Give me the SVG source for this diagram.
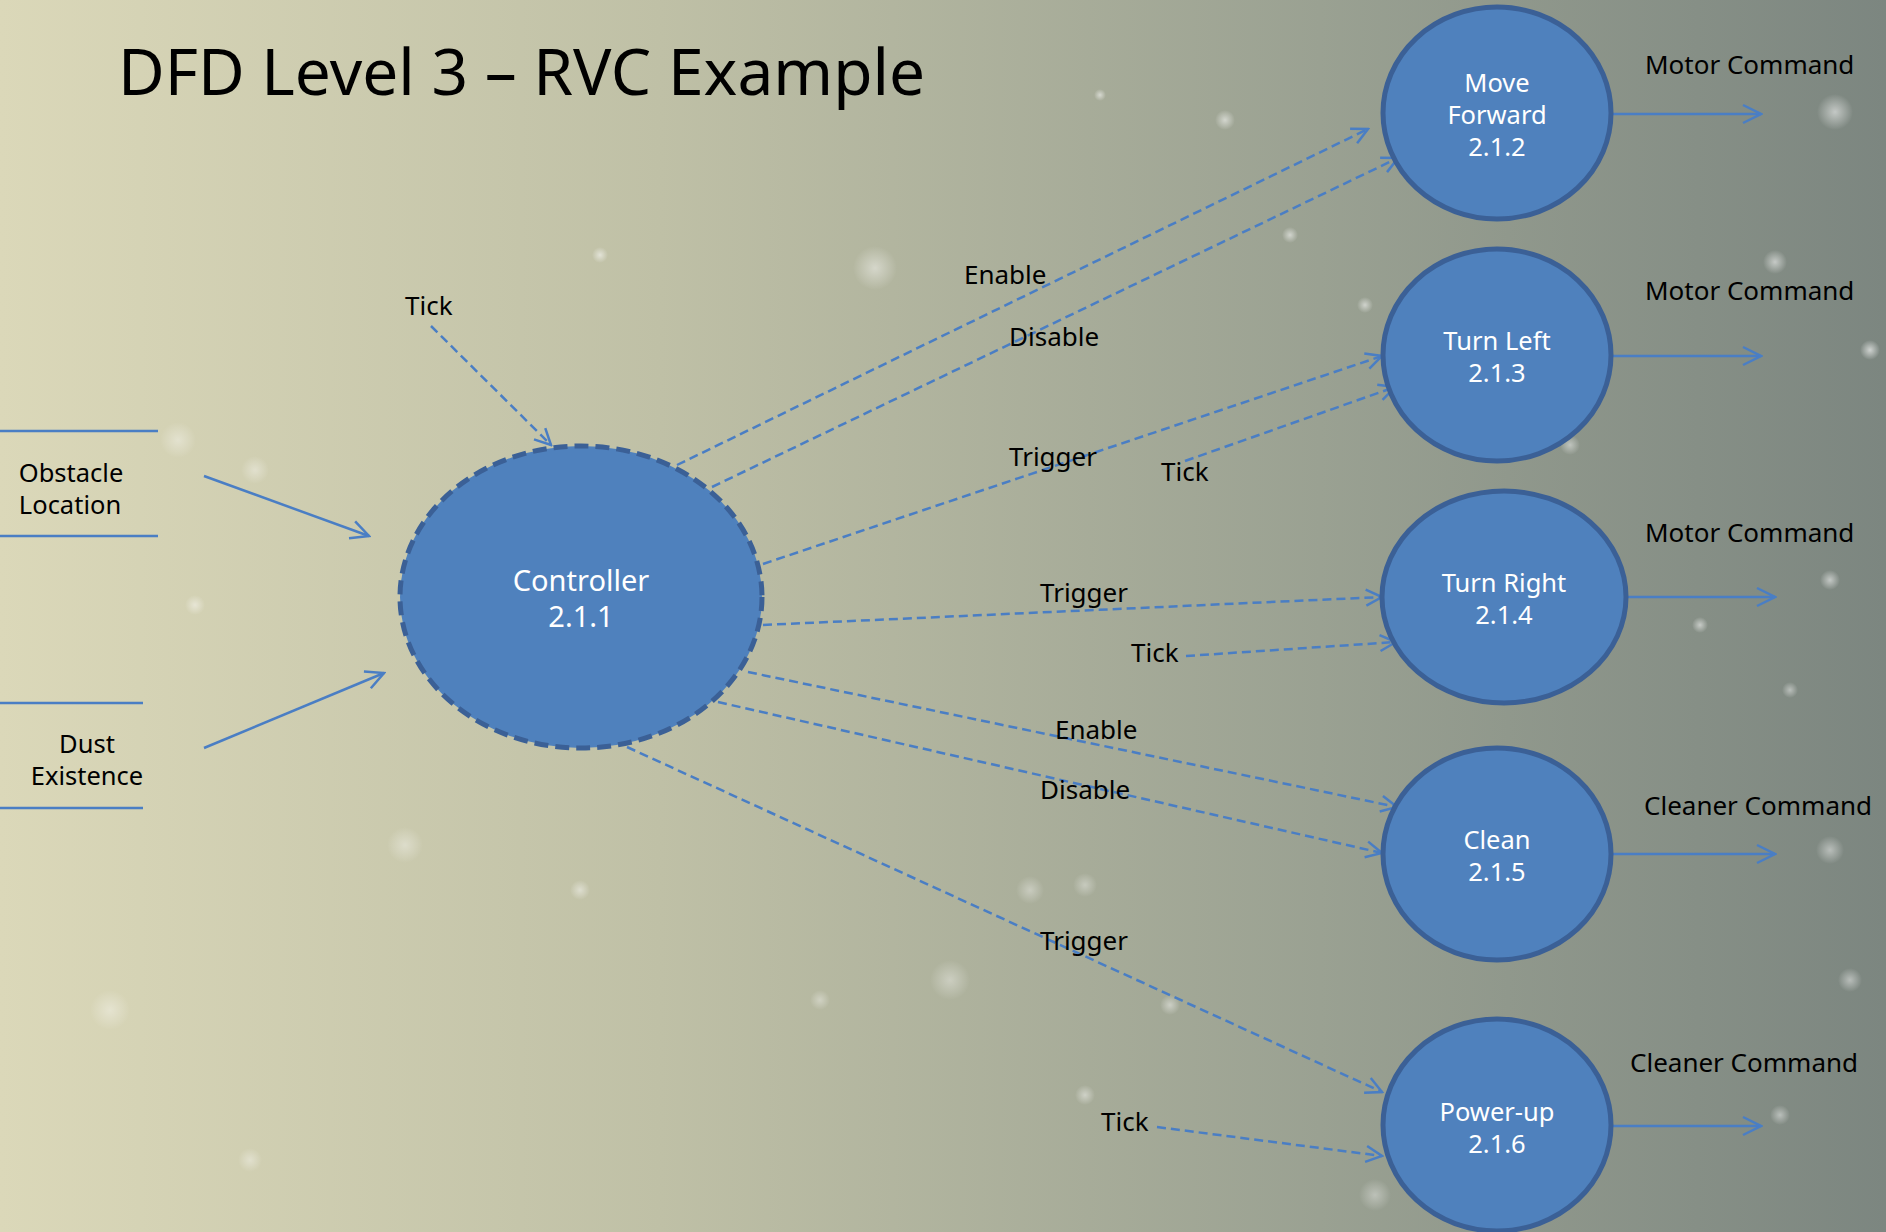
<svg xmlns="http://www.w3.org/2000/svg" width="1886" height="1232" viewBox="0 0 1886 1232">
<defs>
<linearGradient id="bg" x1="0" y1="0" x2="1" y2="0">
<stop offset="0" stop-color="#DBD8B9"/>
<stop offset="0.35" stop-color="#BFC0A6"/>
<stop offset="0.7" stop-color="#9AA192"/>
<stop offset="1" stop-color="#7C8680"/>
</linearGradient>
<radialGradient id="star">
<stop offset="0" stop-color="#FFFFFF" stop-opacity="0.9"/>
<stop offset="1" stop-color="#FFFFFF" stop-opacity="0"/>
</radialGradient>
<marker id="arr" viewBox="0 0 22 22" refX="20" refY="11" markerWidth="22" markerHeight="22" markerUnits="userSpaceOnUse" orient="auto">
<path d="M2,2 L20,11 L2,20" fill="none" stroke="#4A7EC4" stroke-width="2.5"/>
</marker>
<marker id="arrd" viewBox="0 0 20 20" refX="18" refY="10" markerWidth="20" markerHeight="20" markerUnits="userSpaceOnUse" orient="auto">
<path d="M2,2 L18,10 L2,18" fill="none" stroke="#4A7EC4" stroke-width="2.5"/>
</marker>
</defs>
<style>
.node{fill:#4F81BD;stroke:#3B6096;stroke-width:5}
.ctrl{fill:#4F81BD;stroke:#3B6096;stroke-width:5;stroke-dasharray:14 7}
.nt{font-family:"Noto Sans","Open Sans",sans-serif;font-size:25.5px;fill:#FFFFFF;text-anchor:middle}
.ct{font-family:"Noto Sans","Open Sans",sans-serif;font-size:29px;fill:#FFFFFF;text-anchor:middle}
.lb{font-family:"Noto Sans","Open Sans",sans-serif;font-size:26px;fill:#000000}
.lbm{font-family:"Noto Sans","Open Sans",sans-serif;font-size:25.5px;fill:#000000;text-anchor:middle}
.solid{fill:none;stroke:#4A7EC4;stroke-width:2.5;marker-end:url(#arr)}
.dash{fill:none;stroke:#4A7EC4;stroke-width:2.5;stroke-dasharray:9 5;marker-end:url(#arrd)}
.store{stroke:#4A7EC4;stroke-width:2.5}
</style>
<rect x="0" y="0" width="1886" height="1232" fill="url(#bg)"/>
<g id="stars" fill="url(#star)">
<circle cx="875" cy="268" r="22" opacity="0.5"/>
<circle cx="1835" cy="112" r="18" opacity="0.6"/>
<circle cx="1775" cy="262" r="12" opacity="0.6"/>
<circle cx="1870" cy="350" r="10" opacity="0.7"/>
<circle cx="1830" cy="580" r="10" opacity="0.6"/>
<circle cx="1570" cy="445" r="10" opacity="0.5"/>
<circle cx="1225" cy="120" r="10" opacity="0.6"/>
<circle cx="1290" cy="235" r="8" opacity="0.6"/>
<circle cx="1365" cy="305" r="8" opacity="0.6"/>
<circle cx="600" cy="255" r="8" opacity="0.6"/>
<circle cx="255" cy="470" r="14" opacity="0.4"/>
<circle cx="178" cy="440" r="18" opacity="0.4"/>
<circle cx="195" cy="605" r="10" opacity="0.5"/>
<circle cx="110" cy="1010" r="20" opacity="0.4"/>
<circle cx="405" cy="845" r="18" opacity="0.4"/>
<circle cx="580" cy="890" r="10" opacity="0.5"/>
<circle cx="950" cy="980" r="20" opacity="0.4"/>
<circle cx="1030" cy="890" r="14" opacity="0.4"/>
<circle cx="1085" cy="885" r="12" opacity="0.4"/>
<circle cx="1085" cy="1095" r="10" opacity="0.5"/>
<circle cx="1565" cy="1175" r="12" opacity="0.5"/>
<circle cx="1780" cy="1115" r="10" opacity="0.5"/>
<circle cx="1850" cy="980" r="12" opacity="0.5"/>
<circle cx="1375" cy="1195" r="16" opacity="0.4"/>
<circle cx="1170" cy="1005" r="10" opacity="0.5"/>
<circle cx="1830" cy="850" r="14" opacity="0.5"/>
<circle cx="1700" cy="625" r="8" opacity="0.6"/>
<circle cx="1460" cy="410" r="10" opacity="0.5"/>
<circle cx="820" cy="1000" r="10" opacity="0.4"/>
<circle cx="250" cy="1160" r="12" opacity="0.4"/>
<circle cx="1790" cy="690" r="8" opacity="0.5"/>
<circle cx="1100" cy="95" r="6" opacity="0.6"/>
</g>
<text x="118" y="95" font-family="'Noto Sans','Open Sans',sans-serif" font-size="64" fill="#000000">DFD Level 3 – RVC Example</text>
<g id="connectors">
<path class="dash" d="M431,326 L551,445"/>
<path class="solid" d="M204,476 L369,536"/>
<path class="solid" d="M204,748 L384,673"/>
<path class="dash" d="M677,465 L1368,129"/>
<path class="dash" d="M712,487 L1398,158"/>
<path class="dash" d="M763,564 L1382,356"/>
<path class="dash" d="M1185,461 L1395,387"/>
<path class="dash" d="M763,625 L1382,597"/>
<path class="dash" d="M1186,656 L1396,642"/>
<path class="dash" d="M748,672 L1397,807"/>
<path class="dash" d="M718,702 L1382,853"/>
<path class="dash" d="M627,747 L1382,1092"/>
<path class="dash" d="M1157,1127 L1382,1156"/>
<path class="solid" d="M1612,114 L1761,114"/>
<path class="solid" d="M1612,356 L1761,356"/>
<path class="solid" d="M1626,597 L1775,597"/>
<path class="solid" d="M1612,854 L1775,854"/>
<path class="solid" d="M1612,1126 L1761,1126"/>
</g>
<g id="labels">
<text class="lb" x="405" y="315">Tick</text>
<text class="lb" x="964" y="284">Enable</text>
<text class="lb" x="1009" y="346">Disable</text>
<text class="lb" x="1009" y="466">Trigger</text>
<text class="lb" x="1161" y="481">Tick</text>
<text class="lb" x="1040" y="602">Trigger</text>
<text class="lb" x="1131" y="662">Tick</text>
<text class="lb" x="1055" y="739">Enable</text>
<text class="lb" x="1040" y="799">Disable</text>
<text class="lb" x="1040" y="950">Trigger</text>
<text class="lb" x="1101" y="1131">Tick</text>
<text class="lb" x="1645" y="74">Motor Command</text>
<text class="lb" x="1645" y="300">Motor Command</text>
<text class="lb" x="1645" y="542">Motor Command</text>
<text class="lb" x="1644" y="815">Cleaner Command</text>
<text class="lb" x="1630" y="1072">Cleaner Command</text>
</g>
<g id="store-obstacle">
<line class="store" x1="0" y1="431" x2="158" y2="431"/>
<line class="store" x1="0" y1="536" x2="158" y2="536"/>
<text class="lbm" x="71" y="482">Obstacle<tspan x="70" dy="32">Location</tspan></text>
</g>
<g id="store-dust">
<line class="store" x1="0" y1="703" x2="143" y2="703"/>
<line class="store" x1="0" y1="808" x2="143" y2="808"/>
<text class="lbm" x="87" y="753">Dust<tspan x="87" dy="32">Existence</tspan></text>
</g>
<g id="controller">
<ellipse class="ctrl" cx="581" cy="597" rx="181" ry="151"/>
<text class="ct" x="581" y="591">Controller<tspan x="581" dy="36">2.1.1</tspan></text>
</g>
<g id="move-forward">
<ellipse class="node" cx="1497" cy="113" rx="114" ry="106"/>
<text class="nt" x="1497" y="92">Move<tspan x="1497" dy="32">Forward</tspan><tspan x="1497" dy="32">2.1.2</tspan></text>
</g>
<g id="turn-left">
<ellipse class="node" cx="1497" cy="355" rx="114" ry="106"/>
<text class="nt" x="1497" y="350">Turn Left<tspan x="1497" dy="32">2.1.3</tspan></text>
</g>
<g id="turn-right">
<ellipse class="node" cx="1504" cy="597" rx="122" ry="106"/>
<text class="nt" x="1504" y="592">Turn Right<tspan x="1504" dy="32">2.1.4</tspan></text>
</g>
<g id="clean">
<ellipse class="node" cx="1497" cy="854" rx="114" ry="106"/>
<text class="nt" x="1497" y="849">Clean<tspan x="1497" dy="32">2.1.5</tspan></text>
</g>
<g id="power-up">
<ellipse class="node" cx="1497" cy="1125" rx="114" ry="106"/>
<text class="nt" x="1497" y="1121">Power-up<tspan x="1497" dy="32">2.1.6</tspan></text>
</g>
</svg>
